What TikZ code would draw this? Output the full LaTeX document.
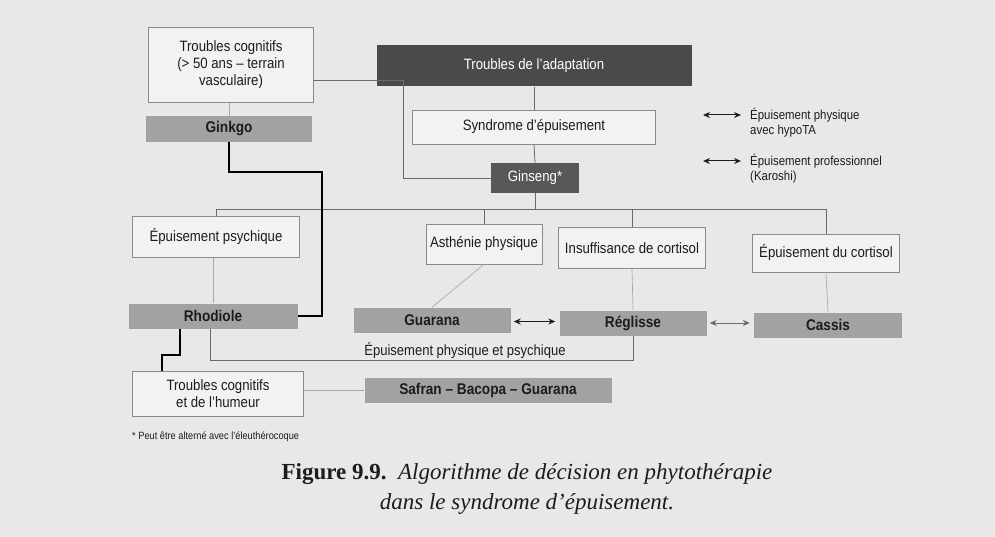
\documentclass[tikz,border=0pt]{standalone}
\usepackage{fontspec}
\usetikzlibrary{arrows.meta,calc}
\newfontfamily\dfont{Liberation Sans}[FakeStretch=0.88]
\newfontfamily\capfont{Liberation Serif}
\definecolor{bgc}{HTML}{E8E8E8}
\definecolor{lboxc}{HTML}{F2F2F2}
\definecolor{bordc}{HTML}{8A8A8A}
\definecolor{gboxc}{HTML}{A2A2A2}
\definecolor{dboxc}{HTML}{4A4A4A}
\definecolor{linkc}{HTML}{6A6A6A}
\definecolor{lightc}{HTML}{ABABAB}
\definecolor{txtc}{HTML}{1C1C1C}
\tikzset{
  lbox/.style={draw=bordc, line width=0.6pt, fill=lboxc, inner sep=0pt, align=center,
    text=txtc, font=\dfont\fontsize{15}{17}\selectfont},
  gbox/.style={fill=gboxc, inner sep=0pt, text=txtc, minimum height=25pt,
    font=\dfont\bfseries\fontsize{15.5}{17}\selectfont},
  dbox/.style={fill=dboxc, inner sep=0pt, text=white,
    font=\dfont\fontsize{15}{17}\selectfont},
  link/.style={draw=linkc, line width=0.8pt},
  llink/.style={draw=lightc, line width=0.7pt},
  heavy/.style={draw=black, line width=1.7pt},
  dblarrow/.style={{Stealth[length=7pt,width=6pt]}-{Stealth[length=7pt,width=6pt]}, line width=1.2pt, draw=txtc},
  note/.style={inner sep=0pt, text=txtc, align=left, anchor=north west,
    font=\dfont\fontsize{13}{15}\selectfont}
}
\begin{document}
\begin{tikzpicture}[x=1pt,y=-1pt]
\useasboundingbox (0,0) rectangle (995,537);
\fill[bgc] (0,0) rectangle (995,537);

% ---- nodes ----
\node[lbox, minimum width=165pt, minimum height=75pt] (tc) at (231,65)
  {Troubles cognitifs\\(> 50 ans – terrain\\vasculaire)};
\node[gbox, minimum width=166pt, minimum height=26pt] (gk) at (229,129) {Ginkgo};
\node[dbox, minimum width=315pt, minimum height=41pt] (ta) at (534,66) {Troubles de l’adaptation};
\node[lbox, minimum width=243pt, minimum height=34pt] (syn) at (534,127) {Syndrome d’épuisement};
\node[dbox, fill=dboxc!92!white, minimum width=88pt, minimum height=30pt] (gin) at (535,178) {Ginseng*};

\node[note] (n1) at (750,108) {Épuisement physique\\avec hypoTA};
\node[note] (n2) at (750,154) {Épuisement professionnel\\(Karoshi)};
\coordinate (a1) at (703,115);
\coordinate (a2) at (703,161);

\node[lbox, minimum width=167pt, minimum height=41pt] (ep) at (216,237) {Épuisement psychique};
\node[lbox, minimum width=116pt, minimum height=40pt] (ap) at (484,244) {Asthénie physique};
\node[lbox, minimum width=147pt, minimum height=41pt] (ic) at (632,248) {Insuffisance de cortisol};
\node[lbox, minimum width=147pt, minimum height=38pt] (ec) at (826,253) {Épuisement du cortisol};

\node[gbox, minimum width=169pt] (rho) at (213,316) {Rhodiole};
\node[gbox, minimum width=157pt] (gua) at (432,320) {Guarana};
\node[gbox, minimum width=147pt] (reg) at (633,323) {Réglisse};
\node[gbox, minimum width=148pt] (cas) at (828,325) {Cassis};

\node[inner sep=0pt, text=txtc, font=\dfont\fontsize{14.8}{16}\selectfont] (epp) at (465,351)
  {Épuisement physique et psychique};

\node[lbox, minimum width=171pt, minimum height=45pt] (tch) at (218,394)
  {Troubles cognitifs\\et de l’humeur};
\node[gbox, minimum width=247pt] (saf) at (488,390) {Safran – Bacopa – Guarana};

\node[inner sep=0pt, anchor=west, text=txtc, font=\dfont\fontsize{10.5}{12}\selectfont] (fn) at (132,437)
  {* Peut être alterné avec l’éleuthérocoque};

\node[inner sep=0pt, align=center, text=txtc, font=\capfont\fontsize{23}{29.5}\selectfont] (cap) at (527,489)
  {{\bfseries Figure 9.9.}\ \ \textit{Algorithme de décision en phytothérapie}\\
   \textit{dans le syndrome d’épuisement.}};

% ---- coordinates ----
\coordinate (k1) at (403,80);
\coordinate (k2) at (322,172);
\coordinate (bus) at (535,209);
\coordinate (k3) at (210,360);
\coordinate (k4) at (180,355);
\coordinate (k5) at (162,355);

% ---- connectors ----
\draw[llink] (tc.south -| gk.north) -- (gk.north);
\draw[link] (tc.east |- k1) -- (k1) |- (gin.west);
\draw[link] (ta.south) -- (syn.north);
\draw[link] (syn.south) -- (gin.north);
\draw[link] (gin.south) -- (gin.south |- bus);
\draw[link] (ep.north) -- (ep.north |- bus) -- (ec.north |- bus) -- (ec.north);
\draw[link] (ap.north |- bus) -- (ap.north);
\draw[link] (ic.north |- bus) -- (ic.north);

\draw[heavy] (gk.south) -- (gk.south |- k2) -- (k2) |- (rho.east);

\draw[llink] (ep.south -| rho.north) -- (rho.north);
\draw[llink] (ap.south) -- (gua.north);
\draw[llink] (ic.south) -- (reg.north);
\draw[llink] (ec.south) -- (cas.north);

\draw[dblarrow] ([xshift=3pt,yshift=-1.5pt]gua.east) -- ([xshift=-4pt,yshift=-1.5pt]reg.west |- gua.east);
\draw[dblarrow, line width=0.9pt, draw=linkc] ([xshift=3pt]reg.east) -- ([xshift=-4pt]cas.west |- reg.east);

\draw[link] (k3 |- rho.south) -- (k3) -| (reg.south);
\draw[heavy] (k4 |- rho.south) -- (k4) -- (k5) -- (k5 |- tch.north);
\draw[llink] (tch.east |- saf.west) -- (saf.west);

\draw[dblarrow, line width=1pt] (a1) -- ([xshift=-9pt]a1 -| n1.west);
\draw[dblarrow, line width=1pt] (a2) -- ([xshift=-9pt]a2 -| n2.west);
\end{tikzpicture}
\end{document}
